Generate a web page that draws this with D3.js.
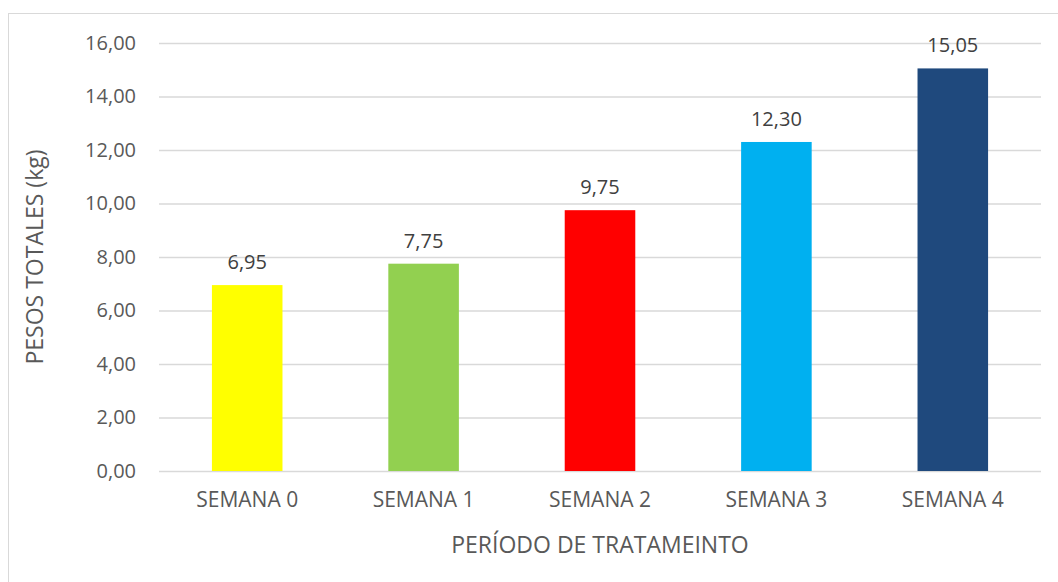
<!DOCTYPE html>
<html>
<head>
<meta charset="utf-8">
<script src="https://cdn.jsdelivr.net/npm/d3@7"></script>
<style>
  body { margin: 0; background: #fff; }
  svg { display: block; font-family: "Open Sans", sans-serif; }
</style>
</head>
<body>
<div class="svg-container"></div>
<script>
const CATEGORIES = ["SEMANA 0", "SEMANA 1", "SEMANA 2", "SEMANA 3", "SEMANA 4"];
const VALUES = [6.95, 7.75, 9.75, 12.30, 15.05];
const BAR_COLORS = ["#ffff00", "#92d050", "#ff0000", "#00b0f0", "#1f497d"];
const Y_TICKS = [0, 2, 4, 6, 8, 10, 12, 14, 16];

const width = 1058;
const height = 582;
const plot = { left: 159, right: 1041, top: 43, bottom: 471 };

const fmt = (v) => d3.format(".2f")(v).replace(".", ",");

const svg = d3.select(".svg-container").append("svg")
    .attr("width", width)
    .attr("height", height);

// chart frame (runs off the right and bottom edge like the original)
svg.append("rect")
    .attr("x", 8.5).attr("y", 13.5)
    .attr("width", 1200).attr("height", 800)
    .attr("fill", "#fff")
    .attr("stroke", "#d9d9d9")
    .attr("stroke-width", 1);

const xScale = d3.scaleBand()
    .domain(CATEGORIES)
    .range([plot.left, plot.right])
    .paddingInner(0.6)
    .paddingOuter(0.3);

const yScale = d3.scaleLinear().domain([0, 16]).range([plot.bottom, plot.top]);

// gridlines + y labels
const yAxis = svg.append("g")
    .attr("transform", "translate(" + plot.left + ",0)")
    .call(d3.axisLeft(yScale)
        .tickValues(Y_TICKS)
        .tickSize(-(plot.right - plot.left))
        .tickPadding(23)
        .tickFormat(fmt));
yAxis.select(".domain").remove();
yAxis.selectAll(".tick line").attr("stroke", "#d9d9d9").attr("stroke-width", 1.3);
yAxis.selectAll(".tick text")
    .attr("fill", "#595959")
    .style("font-size", "20px")
    .style("font-family", "Open Sans, sans-serif");

// bars
svg.append("g").selectAll(".bar")
    .data(VALUES)
    .enter()
    .append("rect")
    .classed("bar", true)
    .attr("x", (d, i) => xScale(CATEGORIES[i]))
    .attr("y", (d) => yScale(d))
    .attr("width", xScale.bandwidth())
    .attr("height", (d) => yScale(0) - yScale(d))
    .attr("fill", (d, i) => BAR_COLORS[i]);

// value labels
svg.append("g").selectAll(".val")
    .data(VALUES)
    .enter()
    .append("text")
    .attr("x", (d, i) => xScale(CATEGORIES[i]) + xScale.bandwidth() / 2)
    .attr("y", (d) => yScale(d) - 16)
    .attr("text-anchor", "middle")
    .attr("fill", "#404040")
    .style("font-size", "20px")
    .text(fmt);

// x axis labels
const xAxis = svg.append("g")
    .attr("transform", "translate(0," + plot.bottom + ")")
    .call(d3.axisBottom(xScale).tickSize(0).tickPadding(21));
xAxis.select(".domain").remove();
xAxis.selectAll(".tick text")
    .attr("fill", "#595959")
    .style("font-size", "21px")
    .style("font-family", "Open Sans, sans-serif");

// axis titles
svg.append("text")
    .attr("x", (plot.left + plot.right) / 2)
    .attr("y", 553)
    .attr("text-anchor", "middle")
    .attr("fill", "#595959")
    .style("font-size", "23px")
    .text("PERÍODO DE TRATAMEINTO");

svg.append("text")
    .attr("transform", "translate(43," + (plot.top + plot.bottom) / 2 + ") rotate(-90)")
    .attr("text-anchor", "middle")
    .attr("fill", "#595959")
    .style("font-size", "23px")
    .text("PESOS TOTALES (kg)");
</script>
</body>
</html>
